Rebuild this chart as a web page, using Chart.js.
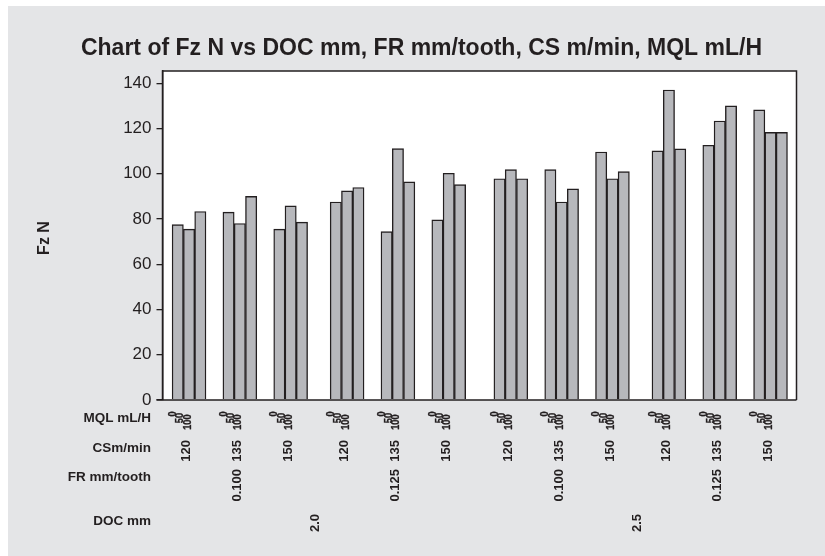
<!DOCTYPE html>
<html>
<head>
<meta charset="utf-8">
<script src="https://cdn.jsdelivr.net/npm/chart.js@4.4.1/dist/chart.umd.min.js"></script>
<style>
  html, body { margin: 0; padding: 0; background: #ffffff; }
  #wrap { width: 825px; height: 556px; }
</style>
</head>
<body>
<div id="wrap"><canvas id="c" width="825" height="556"></canvas></div>
<script>
// ---- data ----
const docLevels = ['2.0', '2.5'];
const frLevels = ['0.100', '0.125'];
const csLevels = ['120', '135', '150'];
const mqlLevels = ['0', '50', '100'];
const fzN = [
  77.5, 75.5, 83.3,   83.0, 78.0, 90.0,   75.5, 85.8, 78.6,
  87.5, 92.4, 93.9,   74.4, 111.1, 96.4,  79.6, 100.2, 95.2,
  97.8, 101.8, 97.8,  101.8, 87.5, 93.3,  109.6, 97.8, 100.9,
  110.1, 137.0, 111.0, 112.6, 123.3, 130.0, 128.2, 118.3, 118.3
];
const yTicks = [0, 20, 40, 60, 80, 100, 120, 140];
const rowTitles = ['MQL mL/H', 'CSm/min', 'FR mm/tooth', 'DOC mm'];
const yTitle = 'Fz N';
const chartTitle = 'Chart of Fz N vs DOC mm, FR mm/tooth, CS m/min, MQL mL/H';

// ---- layout of nested clusters (bar slot positions) ----
const nM = mqlLevels.length, nC = csLevels.length, nF = frLevels.length;
function groupStart(g) {
  const f = Math.floor(g / nC);
  const d = Math.floor(g / (nC * nF));
  return 0.85 + g * 4.5 + 0.5 * f + 0.5 * d;
}
const points = fzN.map((v, k) => ({ x: groupStart(Math.floor(k / nM)) + (k % nM) + 0.5, y: v }));
const X_MAX = groupStart(fzN.length / nM - 1) + nM + 0.8;

const FONT = '"Liberation Sans", Arial, Helvetica, sans-serif';
const INK = '#231f20';

const bgPlugin = {
  id: 'bg',
  beforeDraw(chart) {
    const { ctx, width, height, chartArea: a } = chart;
    ctx.save();
    ctx.fillStyle = '#ffffff';
    ctx.fillRect(0, 0, width, height);
    ctx.fillStyle = '#e4e5e7';
    ctx.fillRect(8, 6, width - 8, height - 6);
    ctx.fillStyle = '#ffffff';
    ctx.fillRect(a.left, a.top, a.right - a.left, a.bottom - a.top);
    ctx.restore();
  }
};

const framePlugin = {
  id: 'frame',
  afterDatasetsDraw(chart) {
    const { ctx, chartArea: a } = chart;
    ctx.save();
    ctx.strokeStyle = INK;
    ctx.lineWidth = 1.5;
    ctx.beginPath();
    ctx.moveTo(a.left, a.bottom);
    ctx.lineTo(a.left, a.top);
    ctx.lineTo(a.right, a.top);
    ctx.lineTo(a.right, a.bottom);
    ctx.moveTo(a.left - 6, a.bottom);
    ctx.lineTo(a.right, a.bottom);
    ctx.stroke();
    ctx.restore();
  }
};

function vText(ctx, text, x, yTop, sx, stroke) {
  ctx.save();
  ctx.translate(x, yTop);
  ctx.rotate(-Math.PI / 2);
  if (sx) ctx.scale(sx, 1);
  ctx.textAlign = 'right';
  ctx.textBaseline = 'middle';
  ctx.fillText(text, 0, 0);
  if (stroke) {
    ctx.lineWidth = stroke;
    ctx.strokeStyle = INK;
    ctx.strokeText(text, 0, 0);
  }
  ctx.restore();
}

const labelsPlugin = {
  id: 'nestedLabels',
  afterDraw(chart) {
    const { ctx } = chart;
    const xs = chart.scales.x;
    const px = v => xs.getPixelForValue(v);
    ctx.save();
    ctx.fillStyle = INK;

    // chart title
    ctx.font = 'bold 23px ' + FONT;
    ctx.textAlign = 'center';
    ctx.textBaseline = 'middle';
    ctx.fillText(chartTitle, 421.5, 48.5);

    // row titles
    ctx.font = 'bold 13.5px ' + FONT;
    ctx.textAlign = 'right';
    ctx.textBaseline = 'middle';
    const rowY = [418, 448, 477.5, 521];
    rowTitles.forEach((t, i) => ctx.fillText(t, 151, rowY[i]));

    // y axis title
    ctx.save();
    ctx.font = 'bold 16px ' + FONT;
    ctx.translate(45, 238);
    ctx.rotate(-Math.PI / 2);
    ctx.textAlign = 'center';
    ctx.textBaseline = 'middle';
    ctx.fillText(yTitle, 0, 0);
    ctx.restore();

    const nGroups = fzN.length / nM;
    // MQL labels
    ctx.font = 'bold 11.5px ' + FONT;
    for (let g = 0; g < nGroups; g++) {
      mqlLevels.forEach((t, i) => {
        vText(ctx, t, px(groupStart(g) + 0.05 + i * 0.65), 411.5 + i * 1.5, 0.8, 0.35);
      });
    }
    // CS labels
    ctx.font = 'bold 13px ' + FONT;
    for (let g = 0; g < nGroups; g++) {
      vText(ctx, csLevels[g % nC], px(groupStart(g) + 1.3), 440);
    }
    // FR labels (under the middle CS group of each FR block)
    const nFRBlocks = nGroups / nC;
    for (let b = 0; b < nFRBlocks; b++) {
      const mid = b * nC + 1;
      vText(ctx, frLevels[b % nF], px(groupStart(mid) + 1.3), 469);
    }
    // DOC labels
    const perDoc = nC * nF;
    for (let d = 0; d < docLevels.length; d++) {
      const first = groupStart(d * perDoc);
      const last = groupStart(d * perDoc + perDoc - 1) + nM;
      vText(ctx, docLevels[d], px((first + last) / 2) - 3, 514);
    }
    ctx.restore();
  }
};

new Chart(document.getElementById('c'), {
  type: 'bar',
  data: {
    datasets: [{
      data: points,
      backgroundColor: '#b7b8bc',
      borderColor: INK,
      borderWidth: 1.4,
      barPercentage: 1,
      categoryPercentage: 1
    }]
  },
  options: {
    responsive: false,
    animation: false,
    layout: { padding: { top: 71, left: 0, right: 28.5, bottom: 156 } },
    plugins: {
      legend: { display: false },
      tooltip: { enabled: false },
      title: { display: false }
    },
    scales: {
      x: {
        type: 'linear',
        min: 0,
        max: X_MAX,
        offset: false,
        display: true,
        grid: { display: false },
        border: { display: false },
        ticks: { display: false },
        afterFit(s) { s.height = 0; }
      },
      y: {
        min: 0,
        max: 145.4,
        afterBuildTicks(s) { s.ticks = yTicks.map(v => ({ value: v })); },
        afterFit(s) { s.width = 162.5; },
        grid: { drawOnChartArea: false, drawTicks: true, tickLength: 6, color: INK, lineWidth: 1.3 },
        border: { display: true, color: INK, width: 1.5 },
        ticks: {
          color: INK,
          padding: 5,
          font: { family: FONT, size: 17 },
          callback: v => String(v)
        }
      }
    }
  },
  plugins: [bgPlugin, framePlugin, labelsPlugin]
});
</script>
</body>
</html>
